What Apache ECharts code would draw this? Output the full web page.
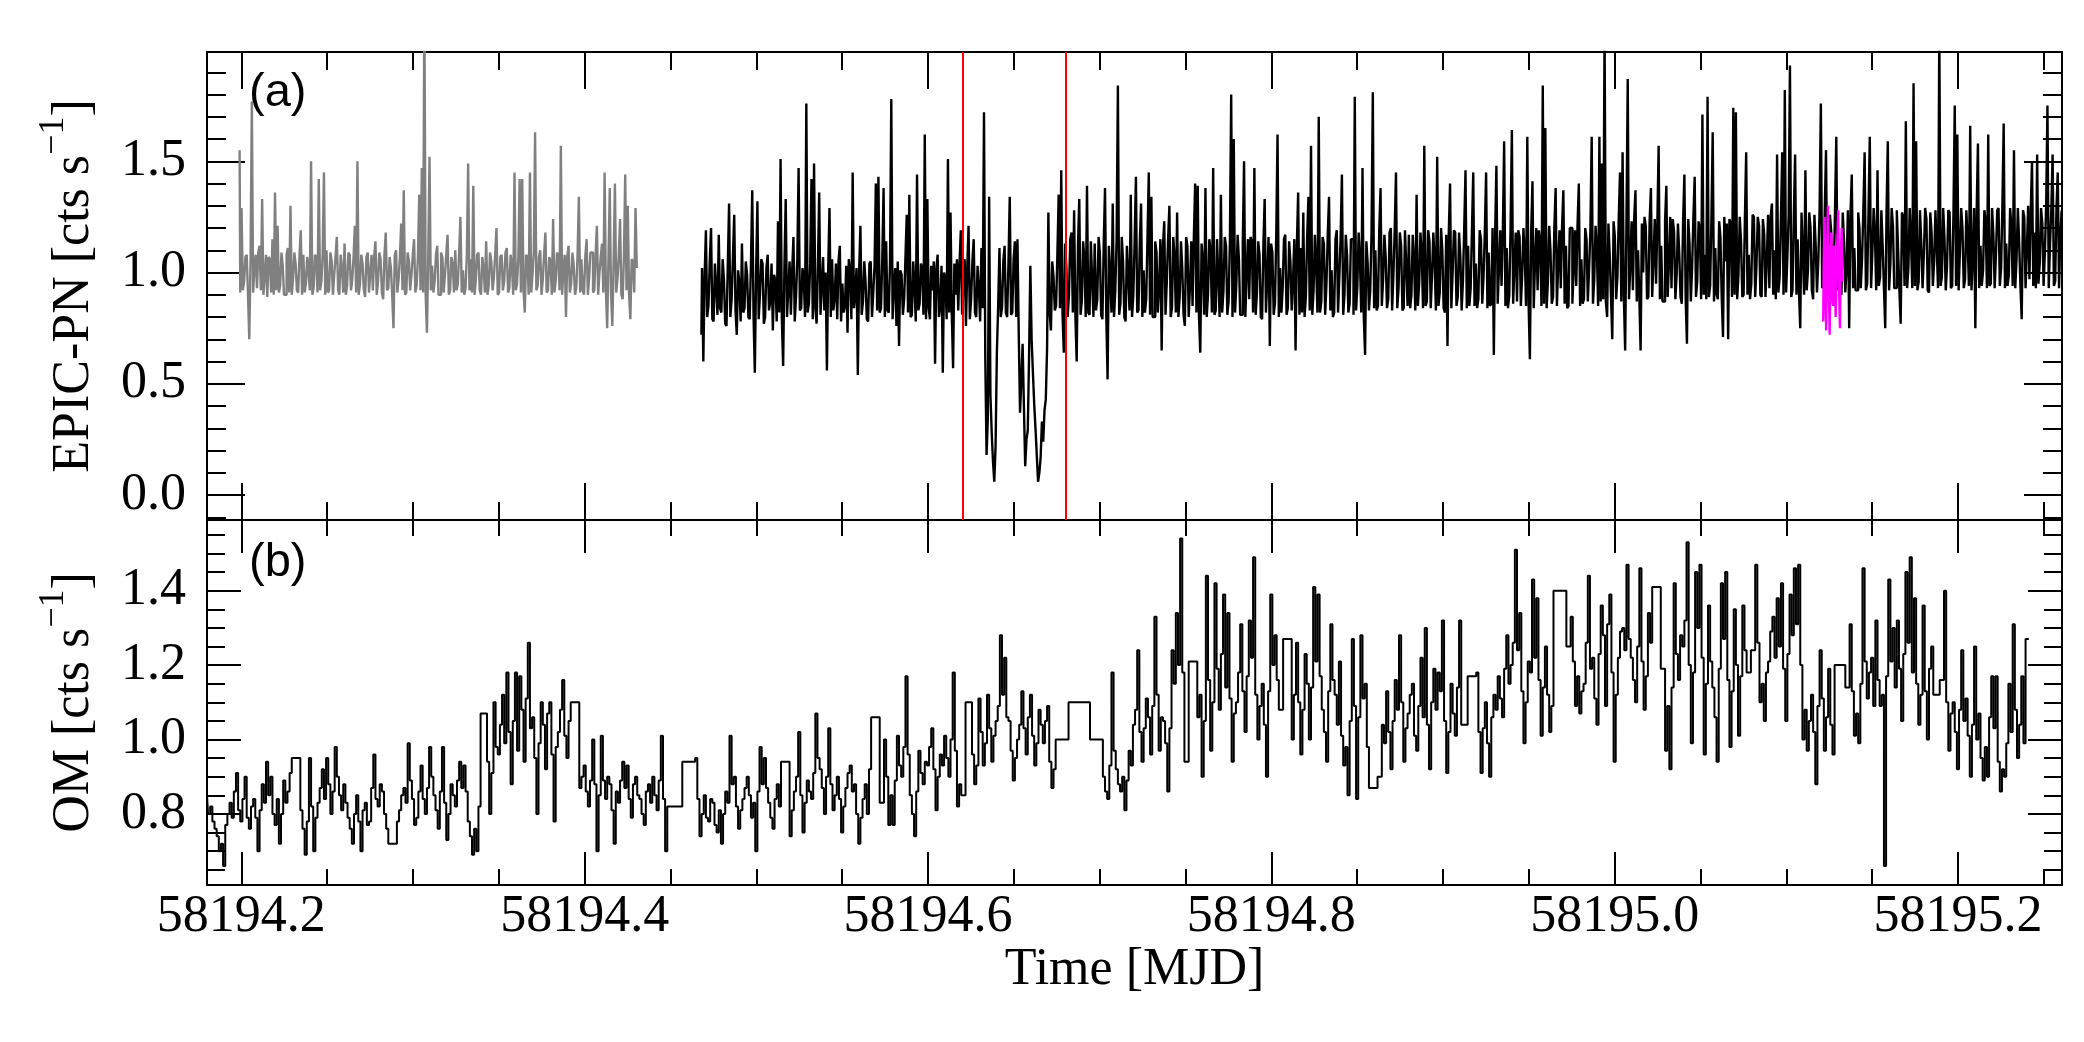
<!DOCTYPE html>
<html>
<head>
<meta charset="utf-8">
<title>EPIC-PN and OM light curves</title>
<script src="https://cdn.jsdelivr.net/npm/echarts@6.0.0/dist/echarts.min.js"></script>
<style>
  html, body { margin: 0; padding: 0; background: #ffffff; }
  #chart { width: 2084px; height: 1042px; }
</style>
</head>
<body>
<div id="chart"></div>
<script>
// axis ranges (MJD / count rates)
const tMin = 58194.18;
const tMax = 58195.2606;
const pnMin = -0.112;
const pnMax = 1.991;
const omMin = 0.609;
const omMax = 1.590;

// tick values
const majorTimes = [58194.2, 58194.4, 58194.6, 58194.8, 58195.0, 58195.2];
const minorTimes = [58194.2, 58194.25, 58194.3, 58194.35, 58194.4, 58194.45, 58194.5, 58194.55,
  58194.6, 58194.65, 58194.7, 58194.75, 58194.8, 58194.85, 58194.9, 58194.95, 58195.0,
  58195.05, 58195.1, 58195.15, 58195.2, 58195.25];
const pnMajor = [0, 0.5, 1.0, 1.5];
const pnMinor = [-0.1, 0, 0.1, 0.2, 0.3, 0.4, 0.5, 0.6, 0.7, 0.8, 0.9, 1.0, 1.1, 1.2, 1.3, 1.4,
  1.5, 1.6, 1.7, 1.8, 1.9];
const omMajor = [0.8, 1.0, 1.2, 1.4];
const omMinor = [0.65, 0.7, 0.75, 0.8, 0.85, 0.9, 0.95, 1.0, 1.05, 1.1, 1.15, 1.2, 1.25, 1.3,
  1.35, 1.4, 1.45, 1.5, 1.55];

// red markers around the dips
const dipMarks = [58194.6206, 58194.6792];

// EPIC-PN, first exposure (grey)
const pnBin = 0.00075;
const pnGreyStart = 58194.199;
const pnGrey = [
  1.55, 0.91, 1.29, 0.92, 0.96, 1.07, 1.08, 0.90, 0.70, 1.06, 1.77, 0.91, 1.02, 1.08, 0.93, 1.09, 1.12, 0.92, 1.33, 0.90,
  0.98, 1.08, 0.89, 1.07, 1.06, 0.91, 1.15, 0.90, 1.36, 0.92, 1.21, 0.91, 0.94, 1.09, 1.03, 0.90, 0.90, 1.08, 1.11, 0.91,
  1.30, 0.90, 0.97, 1.09, 1.04, 0.92, 0.91, 1.08, 1.19, 0.90, 1.08, 0.91, 0.95, 1.07, 1.01, 0.92, 1.50, 0.90, 0.93, 1.08,
  1.07, 0.91, 1.42, 0.92, 0.96, 1.08, 1.45, 0.90, 1.10, 0.91, 0.92, 1.09, 1.05, 0.90, 0.99, 1.07, 1.16, 0.92, 0.90, 1.08,
  1.02, 0.91, 1.13, 0.90, 0.94, 1.09, 1.08, 0.92, 0.97, 1.07, 1.21, 0.91, 1.50, 0.90, 0.95, 1.08, 1.04, 0.92, 0.89, 1.07,
  1.09, 0.91, 1.00, 1.08, 0.92, 1.07, 1.14, 0.90, 0.96, 1.09, 1.06, 0.91, 0.88, 1.08, 1.18, 0.92, 0.93, 1.07, 1.02, 0.90,
  0.75, 1.08, 1.10, 0.91, 0.97, 1.07, 1.22, 0.92, 1.37, 0.90, 0.91, 1.09, 1.05, 0.92, 0.99, 1.08, 1.15, 0.91, 0.94, 1.07,
  1.35, 0.92, 1.47, 0.91, 2.20, 0.90, 0.73, 1.07, 1.52, 0.92, 1.03, 0.91, 0.96, 1.08, 1.12, 0.90, 0.90, 1.09, 1.07, 0.91,
  0.99, 1.08, 1.17, 0.90, 0.92, 1.07, 1.04, 0.91, 1.10, 0.92, 0.95, 1.09, 1.25, 0.91, 1.01, 0.90, 0.93, 1.08, 1.49, 0.92,
  1.06, 0.91, 1.39, 0.90, 0.97, 1.08, 1.09, 0.92, 0.90, 1.07, 1.02, 0.91, 1.14, 0.90, 0.94, 1.09, 1.05, 0.92, 0.98, 1.08,
  1.20, 0.90, 0.91, 1.07, 1.08, 0.92, 0.96, 1.09, 1.11, 0.91, 0.93, 1.08, 1.03, 0.90, 1.45, 0.92, 0.95, 1.07, 1.42, 0.91,
  1.42, 0.92, 0.82, 1.08, 1.07, 0.90, 1.45, 0.91, 0.99, 1.09, 1.63, 0.92, 0.94, 1.07, 1.10, 0.90, 0.97, 1.08, 1.18, 0.91,
  0.92, 1.07, 1.05, 0.90, 1.24, 0.91, 0.96, 1.09, 1.08, 0.92, 1.57, 0.90, 1.01, 1.08, 0.80, 1.07, 1.12, 0.91, 0.95, 1.09,
  1.03, 0.90, 0.93, 1.08, 1.34, 0.91, 1.06, 0.92, 0.90, 1.07, 1.15, 0.90, 0.98, 1.09, 1.09, 0.91, 0.92, 1.08, 1.21, 0.90,
  1.00, 1.07, 1.13, 0.91, 1.45, 0.92, 0.75, 1.06, 1.38, 0.90, 0.76, 1.05, 1.40, 0.91, 0.97, 1.08, 1.24, 0.90, 0.88, 1.07,
  1.44, 0.92, 1.30, 0.90, 0.79, 1.06, 1.05, 0.91, 1.29, 1.02
];

// EPIC-PN, main exposure (black)
const pnBlackStart = 58194.468;
const pnBlack = [
  0.72, 1.02, 0.60, 0.98, 1.19, 0.80, 0.85, 1.05, 1.20, 0.79, 0.78, 1.04, 0.93, 0.81, 1.17, 0.84, 0.82, 1.06, 0.97, 0.77,
  0.76, 1.03, 1.31, 0.80, 0.88, 1.07, 1.26, 0.83, 0.72, 1.01, 0.95, 0.78, 1.13, 0.82, 0.84, 1.05, 0.99, 0.80, 0.79, 1.04,
  1.37, 0.81, 0.55, 1.00, 1.32, 0.79, 0.90, 1.06, 1.04, 0.77, 0.80, 1.02, 1.08, 0.83, 0.87, 1.04, 0.74, 0.99, 0.96, 0.78,
  1.23, 0.82, 1.51, 0.79, 0.58, 1.03, 1.33, 0.80, 0.92, 1.05, 0.81, 1.01, 1.16, 0.78, 0.89, 1.06, 1.47, 0.83, 0.84, 1.02,
  0.98, 0.80, 1.76, 0.82, 0.86, 1.04, 1.42, 0.79, 1.49, 0.84, 0.77, 1.03, 1.36, 0.81, 0.93, 1.07, 0.83, 1.00, 0.56, 1.02,
  1.29, 0.80, 1.06, 0.83, 0.88, 1.04, 0.79, 1.05, 1.12, 0.78, 0.95, 0.82, 0.85, 1.03, 0.73, 1.06, 1.01, 0.79, 1.45, 0.84,
  0.90, 1.02, 0.54, 1.00, 1.21, 0.81, 0.87, 1.05, 0.96, 0.79, 0.78, 1.04, 1.05, 0.80, 0.91, 1.03, 1.40, 0.83, 1.43, 0.82,
  0.84, 1.06, 1.38, 0.80, 1.14, 0.83, 0.82, 1.04, 1.78, 0.79, 0.93, 1.02, 0.76, 1.05, 0.67, 1.01, 0.99, 0.81, 0.88, 1.07,
  1.26, 0.82, 1.35, 0.80, 0.81, 1.05, 0.94, 0.78, 1.44, 0.83, 0.86, 1.04, 1.02, 0.81, 1.62, 0.79, 1.33, 0.84, 0.79, 1.03,
  0.92, 1.05, 0.59, 1.02, 1.08, 0.80, 0.85, 1.03, 0.55, 1.00, 0.97, 0.79, 1.51, 0.82, 1.27, 0.81, 0.57, 1.04, 0.90, 1.06,
  0.83, 1.04, 1.19, 0.81, 0.95, 1.06, 0.76, 1.02, 1.21, 0.79, 0.88, 1.05, 1.15, 0.82, 0.80, 1.03, 0.93, 0.78, 1.11, 0.84,
  1.72, 0.62, 0.18, 0.35, 1.34, 0.45, 0.28, 0.15, 0.06, 0.22, 0.64, 0.85, 1.11, 0.80, 0.84, 1.05, 1.12, 0.82, 0.80, 1.04,
  1.34, 0.81, 0.82, 1.06, 1.14, 0.80, 1.15, 0.72, 0.37, 0.52, 0.68, 0.40, 0.13, 0.25, 0.29, 0.62, 1.03, 0.70, 0.55, 0.41,
  0.30, 0.18, 0.06, 0.10, 0.17, 0.33, 0.24, 0.38, 0.43, 0.66, 1.27, 0.82, 0.74, 1.05, 0.98, 0.83, 0.85, 1.08, 1.35, 0.84,
  1.46, 0.81, 0.64, 1.13, 1.02, 0.80, 0.90, 1.15, 1.18, 0.82, 1.28, 0.80, 0.60, 1.12, 1.33, 0.81, 0.87, 1.14, 1.06, 0.80,
  1.39, 0.82, 0.81, 1.14, 0.97, 0.80, 1.13, 0.83, 0.88, 1.16, 1.09, 0.81, 0.79, 1.13, 1.38, 0.80, 0.52, 1.12, 1.00, 0.82,
  1.31, 0.80, 0.92, 1.15, 1.84, 0.81, 0.86, 1.16, 1.05, 0.80, 0.78, 1.12, 0.99, 0.83, 1.35, 0.80, 0.90, 1.14, 1.43, 0.82,
  0.83, 1.13, 1.31, 0.80, 1.01, 0.82, 0.88, 1.16, 1.45, 0.81, 1.34, 0.80, 0.80, 1.14, 1.09, 0.82, 0.93, 1.15, 0.65, 1.12,
  1.23, 0.81, 0.96, 1.15, 1.30, 0.80, 0.84, 1.16, 1.07, 0.82, 1.27, 0.80, 0.89, 1.14, 1.02, 0.81, 0.76, 1.16, 1.12, 0.80,
  0.94, 1.14, 0.85, 1.16, 1.40, 0.82, 1.39, 0.80, 0.64, 1.13, 1.05, 0.81, 1.38, 0.80, 0.90, 1.15, 1.10, 0.82, 1.47, 0.81,
  0.83, 1.15, 0.98, 0.80, 1.35, 0.82, 0.92, 1.16, 1.12, 0.81, 0.87, 1.14, 1.80, 0.80, 1.60, 0.82, 0.95, 1.17, 1.06, 0.81,
  0.81, 1.13, 1.50, 0.80, 1.00, 1.15, 0.88, 1.16, 1.14, 0.82, 1.47, 0.81, 0.91, 1.14, 1.08, 0.80, 0.79, 1.12, 1.33, 0.82,
  0.97, 1.16, 0.67, 1.13, 1.09, 0.81, 0.86, 1.17, 1.62, 0.80, 1.02, 0.82, 0.93, 1.15, 1.17, 0.81, 0.84, 1.14, 1.05, 0.83,
  0.96, 1.15, 0.65, 1.12, 1.36, 0.81, 1.11, 0.82, 1.27, 0.80, 0.89, 1.16, 1.34, 0.83, 1.57, 0.81, 0.92, 1.17, 1.03, 0.82,
  1.70, 0.82, 0.87, 1.16, 1.13, 0.81, 0.95, 1.17, 1.34, 0.83, 1.01, 0.80, 0.82, 1.15, 1.19, 0.82, 0.98, 1.16, 1.44, 0.81,
  0.90, 1.17, 1.08, 0.82, 0.86, 1.15, 1.15, 0.81, 1.79, 0.83, 0.94, 1.18, 1.06, 0.82, 1.47, 0.80, 0.63, 1.14, 1.04, 0.83,
  0.92, 1.18, 1.81, 0.84, 1.10, 0.83, 0.85, 1.19, 1.38, 0.85, 0.97, 1.17, 1.07, 0.84, 0.88, 1.18, 1.20, 0.83, 0.99, 1.19,
  1.45, 0.84, 0.93, 1.18, 1.12, 0.83, 0.84, 1.19, 1.03, 0.85, 1.17, 0.84, 0.90, 1.17, 1.06, 0.83, 1.35, 0.85, 0.95, 1.18,
  1.08, 0.84, 1.57, 0.85, 0.87, 1.19, 1.14, 0.84, 0.99, 1.18, 1.05, 0.83, 1.52, 0.85, 0.91, 1.20, 1.10, 0.84, 0.82, 1.17,
  0.67, 1.18, 1.40, 0.84, 1.00, 1.19, 1.18, 0.85, 0.89, 1.18, 1.07, 0.83, 0.96, 1.20, 1.46, 0.84, 1.12, 0.85, 0.93, 1.19,
  1.45, 0.85, 1.04, 0.84, 0.88, 1.19, 1.15, 0.86, 0.98, 1.18, 1.45, 0.84, 1.09, 0.85, 0.86, 1.20, 0.63, 1.17, 1.48, 0.86,
  1.02, 1.19, 0.94, 1.18, 1.59, 0.85, 1.11, 0.84, 0.90, 1.20, 1.64, 0.86, 1.03, 1.18, 0.87, 1.19, 1.16, 0.85, 0.99, 1.20,
  1.08, 0.85, 1.61, 0.86, 0.61, 1.18, 1.41, 0.84, 1.05, 1.20, 0.92, 1.19, 1.13, 0.85, 1.84, 0.86, 1.65, 0.84, 0.96, 1.21,
  1.10, 0.86, 0.89, 1.20, 1.38, 0.85, 1.04, 1.19, 0.93, 1.21, 1.37, 0.86, 1.12, 0.84, 0.85, 1.20, 1.20, 0.86, 1.01, 1.19,
  0.94, 1.21, 1.40, 0.85, 1.06, 0.86, 0.88, 1.20, 1.15, 0.87, 1.02, 1.19, 1.61, 0.86, 0.97, 1.21, 1.11, 0.85, 1.61, 0.87,
  1.49, 0.88, 2.10, 0.87, 0.80, 1.22, 1.08, 0.89, 0.70, 1.23, 1.16, 0.88, 0.98, 1.24, 1.45, 0.87, 1.54, 0.89, 0.65, 1.22,
  1.87, 0.88, 1.03, 1.23, 0.92, 1.24, 1.37, 0.87, 1.10, 0.89, 0.65, 1.22, 1.00, 1.25, 1.21, 0.88, 0.89, 1.23, 1.38, 0.89,
  1.06, 1.24, 0.95, 1.22, 1.57, 0.88, 1.12, 0.87, 0.87, 1.23, 1.39, 0.89, 1.04, 1.25, 0.93, 1.24, 1.18, 0.88, 0.99, 1.22,
  1.09, 0.89, 0.86, 1.23, 1.44, 0.88, 0.68, 1.24, 1.13, 0.87, 1.02, 1.25, 1.43, 0.89, 0.96, 1.23, 1.20, 0.88, 1.71, 0.90,
  1.08, 0.88, 1.79, 0.89, 0.94, 1.24, 1.63, 0.87, 1.11, 0.90, 0.88, 1.23, 1.16, 0.89, 0.71, 1.25, 1.05, 1.22, 0.70, 1.24,
  1.22, 0.89, 1.74, 0.90, 1.72, 0.88, 0.99, 1.25, 1.14, 0.89, 0.90, 1.24, 1.54, 0.90, 1.08, 0.88, 0.95, 1.26, 1.25, 0.89,
  1.03, 1.25, 1.21, 0.90, 0.89, 1.24, 1.17, 0.89, 1.06, 1.26, 0.93, 1.25, 1.31, 0.90, 1.10, 0.88, 1.53, 0.91, 0.98, 1.25,
  1.54, 0.90, 1.82, 0.91, 1.07, 1.26, 1.93, 0.89, 0.92, 1.25, 1.53, 0.90, 1.15, 0.91, 0.75, 1.27, 1.09, 0.90, 1.46, 0.92,
  1.01, 1.27, 1.20, 0.92, 0.88, 1.26, 1.12, 0.91, 1.05, 1.28, 1.76, 0.93, 0.94, 1.27, 1.55, 0.92, 1.02, 1.26, 1.19, 0.93,
  0.97, 1.28, 1.61, 0.92, 1.08, 0.93, 0.90, 1.27, 1.14, 0.91, 1.03, 1.28, 0.75, 1.26, 1.44, 0.93, 1.11, 0.92, 0.92, 1.27,
  1.20, 0.93, 1.06, 1.28, 1.54, 0.92, 0.95, 1.27, 1.61, 0.93, 1.09, 1.29, 1.17, 0.92, 1.46, 0.94, 0.98, 1.28, 1.12, 0.93,
  0.75, 1.27, 1.59, 0.92, 1.04, 1.29, 1.21, 0.93, 0.93, 1.28, 1.10, 0.92, 0.77, 1.27, 1.25, 0.94, 1.68, 0.93, 1.02, 1.29,
  1.15, 0.93, 1.85, 0.94, 1.59, 0.92, 0.96, 1.28, 1.13, 0.93, 1.08, 1.29, 1.24, 0.92, 0.91, 1.27, 1.18, 0.94, 1.05, 1.28,
  1.11, 0.93, 2.10, 0.94, 0.98, 1.29, 1.16, 0.92, 1.03, 1.28, 1.27, 0.93, 0.94, 1.27, 1.75, 0.94, 1.62, 0.92, 1.09, 1.29,
  1.20, 0.93, 0.97, 1.28, 1.14, 0.94, 1.66, 0.92, 1.06, 1.29, 0.75, 1.27, 1.58, 0.93, 1.12, 0.94, 1.01, 1.28, 1.23, 0.93,
  1.62, 0.94, 0.95, 1.29, 1.17, 0.93, 1.08, 1.28, 1.29, 0.94, 1.02, 1.30, 1.67, 0.93, 1.13, 0.94, 0.99, 1.29, 1.21, 0.94,
  1.55, 0.93, 1.06, 1.29, 1.14, 0.94, 0.79, 1.28, 1.25, 0.93, 1.10, 1.30, 0.97, 1.27, 1.50, 0.94, 1.18, 0.93, 1.53, 0.95,
  1.04, 1.29, 1.22, 0.94, 1.09, 1.30, 1.75, 0.93, 1.13, 1.28, 1.53, 0.94, 0.96, 1.29, 1.45, 0.93, 1.16, 1.28
];

// EPIC-PN, highlighted stretch (magenta)
const pnMagentaStart = 58195.1215;
const pnMagentaBin = 0.0005;
const pnMagenta = [0.78, 1.02, 1.25, 0.90, 0.74, 1.10, 1.30, 0.95, 0.72, 1.05, 1.18, 0.88,
  0.85, 1.12, 1.05, 0.80, 0.80, 1.15, 1.28, 0.92, 0.75, 1.08, 1.20, 0.96];

// OM light curve
const omStart = 58194.18;
const omBin = 0.00125;
const om = [
  0.85, 0.80, 0.82, 0.78, 0.76, 0.74, 0.70, 0.72, 0.66, 0.77, 0.80, 0.83, 0.79, 0.86, 0.91, 0.81, 0.78, 0.84, 0.90, 0.79,
  0.76, 0.82, 0.84, 0.79, 0.70, 0.81, 0.88, 0.83, 0.94, 0.85, 0.90, 0.80, 0.77, 0.84, 0.72, 0.80, 0.89, 0.83, 0.86, 0.91,
  0.95, 0.95, 0.95, 0.95, 0.81, 0.76, 0.69, 0.78, 0.95, 0.82, 0.70, 0.79, 0.83, 0.87, 0.92, 0.84, 0.95, 0.88, 0.80, 0.86,
  0.98, 0.90, 0.85, 0.81, 0.88, 0.83, 0.79, 0.76, 0.72, 0.80, 0.85, 0.78, 0.70, 0.81, 0.83, 0.77, 0.78, 0.87, 0.96, 0.84,
  0.82, 0.88, 0.86, 0.80, 0.76, 0.72, 0.72, 0.72, 0.72, 0.78, 0.81, 0.85, 0.87, 0.83, 0.99, 0.89, 0.84, 0.77, 0.79, 0.86,
  0.93, 0.84, 0.80, 0.87, 0.98, 0.90, 0.85, 0.81, 0.76, 0.86, 0.98, 0.83, 0.73, 0.80, 0.88, 0.85, 0.82, 0.89, 0.94, 0.87,
  0.93, 0.86, 0.78, 0.74, 0.69, 0.76, 0.70, 0.82, 1.07, 1.07, 1.07, 0.94, 0.80, 0.91, 1.10, 0.98, 0.96, 1.04, 1.12, 0.99,
  1.18, 1.02, 0.88, 1.05, 1.18, 0.97, 1.17, 1.08, 0.94, 1.11, 1.26, 1.03, 1.06, 0.95, 0.80, 0.99, 1.10, 1.04, 0.92, 1.07,
  1.10, 0.96, 0.78, 0.98, 1.02, 1.08, 1.16, 1.01, 0.95, 1.05, 1.10, 1.10, 1.10, 1.10, 0.87, 0.90, 0.93, 0.86, 0.82, 0.89,
  1.00, 0.88, 0.70, 0.85, 1.01, 0.89, 0.84, 0.90, 0.88, 0.81, 0.72, 0.86, 0.83, 0.89, 0.94, 0.87, 0.93, 0.84, 0.79, 0.88,
  0.90, 0.85, 0.84, 0.80, 0.77, 0.86, 0.88, 0.83, 0.90, 0.85, 0.81, 0.89, 1.01, 0.84, 0.70, 0.82, 0.82, 0.82, 0.82, 0.82,
  0.82, 0.82, 0.94, 0.94, 0.94, 0.94, 0.94, 0.94, 0.95, 0.84, 0.74, 0.80, 0.85, 0.79, 0.78, 0.84, 0.83, 0.77, 0.75, 0.81,
  0.72, 0.80, 0.86, 0.83, 1.01, 0.88, 0.90, 0.82, 0.76, 0.81, 0.84, 0.87, 0.90, 0.85, 0.79, 0.83, 0.70, 0.86, 0.98, 0.88,
  0.95, 0.87, 0.83, 0.79, 0.76, 0.84, 0.88, 0.82, 0.94, 0.94, 0.94, 0.94, 0.74, 0.81, 0.86, 0.90, 1.02, 0.85, 0.75, 0.83,
  0.89, 0.86, 0.84, 0.91, 1.07, 0.95, 0.92, 0.87, 0.80, 0.90, 1.03, 0.88, 0.81, 0.85, 0.90, 0.84, 0.75, 0.82, 0.87, 0.91,
  0.93, 0.86, 0.88, 0.80, 0.72, 0.79, 0.84, 0.88, 0.80, 0.92, 1.06, 1.06, 1.06, 1.06, 0.83, 0.83, 1.00, 0.90, 0.77, 0.85,
  0.77, 0.89, 1.01, 0.93, 0.90, 0.98, 1.17, 0.96, 0.85, 0.80, 0.74, 0.86, 0.97, 0.91, 0.88, 0.94, 0.93, 0.98, 1.03, 0.92,
  0.81, 0.90, 0.96, 0.93, 1.01, 0.95, 0.90, 1.00, 1.18, 0.97, 0.82, 0.88, 0.85, 0.85, 1.10, 1.10, 1.10, 0.96, 0.88, 0.93,
  1.11, 1.02, 0.93, 0.99, 1.12, 1.03, 0.94, 1.01, 1.05, 1.09, 1.28, 1.12, 1.22, 1.06, 1.05, 0.97, 0.89, 0.95, 1.00, 1.04,
  1.13, 1.03, 0.96, 1.06, 1.12, 1.01, 0.93, 0.99, 1.08, 1.04, 0.99, 1.05, 1.09, 0.94, 0.87, 0.92, 1.00, 1.00, 1.00, 1.00,
  1.00, 1.00, 1.10, 1.10, 1.10, 1.10, 1.10, 1.10, 1.10, 1.10, 1.10, 1.10, 1.00, 1.00, 1.00, 1.00, 1.00, 1.00, 0.90, 0.86,
  0.84, 0.93, 1.18, 0.97, 0.92, 0.88, 0.86, 0.90, 0.81, 0.89, 0.97, 0.93, 1.04, 1.08, 1.24, 1.02, 0.94, 1.03, 1.11, 1.06,
  0.96, 1.09, 1.33, 1.12, 0.97, 1.06, 1.05, 0.99, 0.86, 1.03, 1.24, 1.15, 1.34, 1.20, 1.54, 1.18, 0.94, 0.94, 1.21, 1.21,
  1.21, 1.21, 1.06, 1.12, 0.90, 1.05, 1.44, 1.16, 0.97, 1.10, 1.42, 1.19, 1.08, 1.23, 1.39, 1.14, 1.34, 1.11, 0.94, 1.07,
  1.10, 1.18, 1.31, 1.13, 1.02, 1.17, 1.32, 1.22, 1.49, 1.12, 1.00, 1.09, 1.15, 1.04, 0.90, 1.13, 1.39, 1.20, 1.28, 1.16,
  1.08, 1.08, 1.27, 1.27, 1.27, 1.27, 1.00, 1.12, 1.26, 1.10, 0.96, 1.08, 1.23, 1.15, 1.00, 1.14, 1.41, 1.21, 1.39, 1.17,
  1.08, 1.02, 0.94, 1.13, 1.31, 1.16, 1.12, 1.04, 1.21, 1.01, 0.93, 0.98, 0.85, 1.05, 1.27, 1.09, 0.84, 1.06, 1.28, 1.11,
  1.15, 0.98, 0.87, 0.87, 0.87, 0.87, 0.90, 0.90, 1.04, 0.99, 1.13, 1.02, 0.92, 1.05, 1.16, 1.08, 1.28, 1.10, 0.94, 1.03,
  1.07, 1.12, 1.15, 1.01, 0.97, 1.09, 1.22, 1.06, 1.30, 1.04, 0.92, 1.10, 1.19, 1.08, 1.18, 1.13, 1.32, 1.05, 0.91, 1.02,
  1.15, 1.07, 1.01, 1.14, 1.32, 1.04, 1.04, 1.04, 1.17, 1.17, 1.17, 1.17, 1.18, 1.02, 0.91, 1.03, 1.10, 0.99, 0.90, 1.06,
  1.12, 1.08, 1.17, 1.11, 1.06, 1.19, 1.28, 1.15, 1.20, 1.26, 1.51, 1.24, 1.34, 1.13, 0.99, 1.10, 1.21, 1.18, 1.43, 1.22,
  1.38, 1.16, 1.01, 1.14, 1.25, 1.12, 1.02, 1.09, 1.40, 1.40, 1.40, 1.40, 1.40, 1.40, 1.25, 1.25, 1.33, 1.21, 1.09, 1.17,
  1.07, 1.13, 1.15, 1.26, 1.44, 1.19, 1.22, 1.11, 1.04, 1.23, 1.36, 1.28, 1.09, 1.31, 1.39, 1.18, 0.94, 1.12, 1.22, 1.29,
  1.30, 1.24, 1.47, 1.27, 1.22, 1.16, 1.10, 1.25, 1.46, 1.21, 1.08, 1.17, 1.34, 1.26, 1.41, 1.41, 1.41, 1.41, 1.19, 1.19,
  0.97, 1.09, 0.92, 1.14, 1.42, 1.23, 1.16, 1.28, 1.25, 1.32, 1.53, 1.20, 0.99, 1.18, 1.45, 1.30, 1.47, 1.22, 0.96, 1.15,
  1.36, 1.21, 1.14, 1.06, 0.94, 1.19, 1.42, 1.27, 1.45, 1.16, 0.98, 1.13, 1.35, 1.20, 1.01, 1.17, 1.36, 1.24, 1.18, 1.18,
  1.24, 1.24, 1.47, 1.26, 1.10, 1.15, 1.05, 1.18, 1.21, 1.29, 1.33, 1.22, 1.38, 1.25, 1.42, 1.19, 1.05, 1.23, 1.39, 1.28,
  1.46, 1.31, 1.47, 1.20, 1.00, 1.08, 0.97, 1.05, 1.12, 1.02, 0.88, 1.09, 1.24, 1.11, 0.97, 1.06, 1.19, 1.04, 0.96, 1.20,
  1.20, 1.20, 1.20, 1.20, 1.14, 1.14, 1.31, 1.13, 1.01, 1.07, 0.99, 1.15, 1.46, 1.21, 1.11, 1.18, 1.22, 1.09, 1.32, 1.16,
  1.09, 1.12, 0.66, 1.17, 1.43, 1.21, 1.30, 1.14, 1.32, 1.19, 1.05, 1.23, 1.45, 1.26, 1.49, 1.18, 1.38, 1.15, 1.04, 1.12,
  1.36, 1.13, 1.00, 1.19, 1.25, 1.12, 1.12, 1.12, 1.16, 1.16, 1.40, 1.10, 0.97, 1.07, 1.10, 1.02, 0.92, 1.08, 1.24, 1.05,
  1.11, 1.01, 0.90, 1.04, 1.25, 1.00, 1.07, 0.95, 0.89, 0.98, 0.90, 1.06, 1.17, 1.03, 1.17, 0.94, 0.86, 0.92, 0.90, 0.99,
  1.15, 1.02, 1.31, 1.08, 0.95, 1.04, 1.17, 0.99, 1.27, 1.27
];

// evenly binned light curve -> [time, rate] pairs
function binned(start, bin, rates) {
  return rates.map(function (r, i) { return [start + i * bin, r]; });
}

const serif = '"Liberation Serif", "Times New Roman", serif';
const black = '#000000';

const grids = [
  { left: 207, top: 52, width: 1855, height: 468 },
  { left: 207, top: 520, width: 1855, height: 365 }
];

function timeAxis(grid, position, ticks, len, line, labels) {
  return {
    type: 'value',
    gridIndex: grid,
    position: position,
    min: tMin,
    max: tMax,
    axisLine: { show: line, onZero: false, lineStyle: { color: black, width: 2 } },
    axisTick: { show: true, inside: true, length: len, customValues: ticks, lineStyle: { color: black, width: 2 } },
    axisLabel: {
      show: labels,
      customValues: majorTimes,
      margin: 6,
      color: black,
      fontFamily: serif,
      fontSize: 52,
      formatter: function (v) { return v.toFixed(1); }
    },
    splitLine: { show: false }
  };
}

function rateAxis(grid, position, min, max, ticks, len, line, labels) {
  return {
    type: 'value',
    gridIndex: grid,
    position: position,
    min: min,
    max: max,
    axisLine: { show: line, onZero: false, lineStyle: { color: black, width: 2 } },
    axisTick: { show: true, inside: true, length: len, customValues: ticks, lineStyle: { color: black, width: 2 } },
    axisLabel: {
      show: labels,
      customValues: ticks,
      margin: 21,
      color: black,
      fontFamily: serif,
      fontSize: 52,
      formatter: function (v) { return v.toFixed(1); }
    },
    splitLine: { show: false }
  };
}

function unitName(label) {
  return '{t|' + label + ' [cts s}{s|\u22121}{t|]}';
}
const nameStyle = {
  rich: {
    t: { fontFamily: serif, fontSize: 52, color: black, lineHeight: 52, verticalAlign: 'bottom' },
    s: { fontFamily: serif, fontSize: 36, color: black, lineHeight: 36, padding: [0, 0, 28, 0], verticalAlign: 'bottom' }
  }
};

const xAxes = [
  timeAxis(0, 'bottom', majorTimes, 37, true, false),
  timeAxis(0, 'top', majorTimes, 37, true, false),
  timeAxis(1, 'bottom', majorTimes, 33, true, true),
  timeAxis(1, 'top', majorTimes, 33, true, false),
  timeAxis(2, 'bottom', minorTimes, 18, false, false),
  timeAxis(2, 'top', minorTimes, 18, false, false),
  timeAxis(3, 'bottom', minorTimes, 16, false, false),
  timeAxis(3, 'top', minorTimes, 16, false, false)
];
xAxes[2].name = 'Time [MJD]';
xAxes[2].nameLocation = 'middle';
xAxes[2].nameGap = 50;
xAxes[2].nameTextStyle = { fontFamily: serif, fontSize: 52, color: black };

const yAxes = [
  rateAxis(0, 'left', pnMin, pnMax, pnMajor, 38, true, true),
  rateAxis(0, 'right', pnMin, pnMax, pnMajor, 38, true, false),
  rateAxis(1, 'left', omMin, omMax, omMajor, 34, true, true),
  rateAxis(1, 'right', omMin, omMax, omMajor, 34, true, false),
  rateAxis(2, 'left', pnMin, pnMax, pnMinor, 19, false, false),
  rateAxis(2, 'right', pnMin, pnMax, pnMinor, 19, false, false),
  rateAxis(3, 'left', omMin, omMax, omMinor, 18, false, false),
  rateAxis(3, 'right', omMin, omMax, omMinor, 18, false, false)
];
yAxes[0].name = unitName('EPIC-PN');
yAxes[0].nameLocation = 'middle';
yAxes[0].nameGap = 107;
yAxes[0].nameTextStyle = nameStyle;
yAxes[2].name = unitName('OM');
yAxes[2].nameLocation = 'middle';
yAxes[2].nameGap = 107;
yAxes[2].nameTextStyle = nameStyle;

function curve(x, y, data, color, width) {
  return {
    type: 'line',
    xAxisIndex: x,
    yAxisIndex: y,
    data: data,
    step: 'middle',
    showSymbol: false,
    symbol: 'none',
    silent: true,
    color: color,
    lineStyle: { color: color, width: width }
  };
}

const pnMain = curve(0, 0, binned(pnBlackStart, pnBin, pnBlack), black, 2.4);
pnMain.markLine = {
  silent: true,
  symbol: ['none', 'none'],
  label: { show: false },
  lineStyle: { color: '#ff0000', width: 2, type: 'solid' },
  data: dipMarks.map(function (t) { return { xAxis: t }; })
};

const chart = echarts.init(document.getElementById('chart'));
chart.setOption({
  backgroundColor: '#ffffff',
  animation: false,
  grid: [
    Object.assign({ outerBoundsMode: 'none' }, grids[0]),
    Object.assign({ outerBoundsMode: 'none' }, grids[1]),
    Object.assign({ outerBoundsMode: 'none' }, grids[0]),
    Object.assign({ outerBoundsMode: 'none' }, grids[1])
  ],
  xAxis: xAxes,
  yAxis: yAxes,
  graphic: [
    { type: 'text', left: 249, top: 70, style: { text: '(a)', fontFamily: '"Liberation Sans", Arial, sans-serif', fontSize: 47, fill: black } },
    { type: 'text', left: 249, top: 540, style: { text: '(b)', fontFamily: '"Liberation Sans", Arial, sans-serif', fontSize: 47, fill: black } }
  ],
  series: [
    curve(0, 0, binned(pnGreyStart, pnBin, pnGrey), '#808080', 2.4),
    pnMain,
    curve(0, 0, binned(pnMagentaStart, pnMagentaBin, pnMagenta), '#ff00ff', 2.4),
    curve(2, 2, binned(omStart, omBin, om), black, 2)
  ]
});
</script>
</body>
</html>
